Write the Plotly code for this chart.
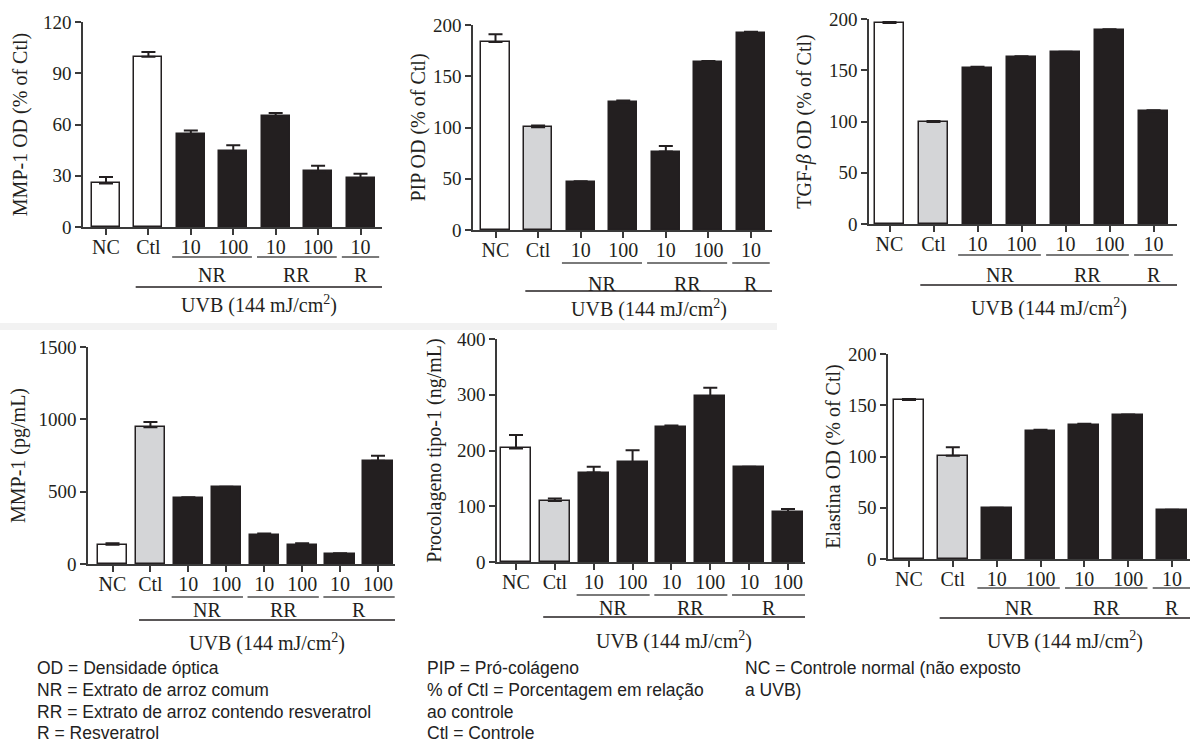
import plotly.graph_objects as go

W, H = 1193, 742

# ---------------- data ----------------
labels7 = ["NC", "Ctl", "10", "100", "10", "100", "10"]
labels8 = ["NC", "Ctl", "10", "100", "10", "100", "10", "100"]
groups7 = [("NR", 2, 3), ("RR", 4, 5), ("R", 6, 6)]
groups8 = [("NR", 2, 3), ("RR", 4, 5), ("R", 6, 7)]

mmp1_od = [25.5, 99.7, 54.2, 44.4, 64.7, 32.7, 28.6]
mmp1_od_err = [3.7, 2.8, 2.3, 3.5, 2.1, 3.1, 2.6]
pip_od = [183.4, 100.3, 46.6, 124.4, 76.5, 163.8, 192.5]
pip_od_err = [7.5, 1.7, 1.0, 2.0, 5.5, 1.2, 1.0]
tgfb_od = [196.1, 99.5, 152.5, 163.0, 167.5, 189.3, 110.0]
tgfb_od_err = [0.9, 1.0, 1.0, 0.6, 0.5, 0.7, 1.0]
mmp1_pg = [133, 945, 456, 532, 198, 133, 69, 714]
mmp1_pg_err = [10, 36, 5, 2, 12, 10, 6, 35]
procol = [203.6, 109.6, 160.5, 179.0, 242.0, 297.0, 171.0, 89.7]
procol_err = [24.0, 4.4, 10.5, 21.6, 3.0, 15.5, 0.0, 5.3]
elast = [155.0, 100.8, 49.4, 125.0, 131.0, 140.5, 47.5]
elast_err = [1.0, 8.2, 0.6, 1.0, 1.0, 0.5, 0.5]

ticks_mmp1_od = [0, 30, 60, 90, 120]
ticks_200 = [0, 50, 100, 150, 200]
ticks_mmp1_pg = [0, 500, 1000, 1500]
ticks_procol = [0, 100, 200, 300, 400]

uvb_label = "UVB (144 mJ/cm<sup>2</sup>)"

legend_rows = [
    ["OD = Densidade óptica", "PIP = Pró-colágeno", "NC = Controle normal (não exposto"],
    ["NR = Extrato de arroz comum", "% of Ctl = Porcentagem em relação", "a UVB)"],
    ["RR = Extrato de arroz contendo resveratrol", "ao controle", ""],
    ["R = Resveratrol", "Ctl = Controle", ""],
]

# ---------------- styling / layout (pixels) ----------------
DARK = "#231f20"
GRAY = "#d4d5d7"
AXC = "#3a3a3a"
SERIF = "Liberation Serif, Times New Roman, serif"

panels = [
    dict(vals=mmp1_od, err=mmp1_od_err, labels=labels7, groups=groups7, ticks=ticks_mmp1_od,
         title="MMP-1 OD (% of Ctl)", ctl_fill="white",
         left=83, right=382, c0=106, c1=360.5, y0=227, ytop=22, bw=0.66,
         gline=257, glab=275, lline=287, uvb=304, standoff=10),
    dict(vals=pip_od, err=pip_od_err, labels=labels7, groups=groups7, ticks=ticks_200,
         title="PIP OD (% of Ctl)", ctl_fill=GRAY,
         left=473, right=772, c0=495.5, c1=751, y0=230, ytop=25, bw=0.66,
         gline=263, glab=284, lline=291, uvb=308, standoff=2),
    dict(vals=tgfb_od, err=tgfb_od_err, labels=labels7, groups=groups7, ticks=ticks_200,
         title="TGF-<i>β</i> OD (% of Ctl)", ctl_fill=GRAY,
         left=869, right=1177, c0=889.5, c1=1153.5, y0=224, ytop=19, bw=0.66,
         gline=255, glab=275, lline=285, uvb=307, standoff=12),
    dict(vals=mmp1_pg, err=mmp1_pg_err, labels=labels8, groups=groups8, ticks=ticks_mmp1_pg,
         title="MMP-1 (pg/mL)", ctl_fill=GRAY,
         left=88, right=395, c0=112.5, c1=378, y0=564, ytop=347, bw=0.77,
         gline=597, glab=610, lline=620, uvb=642, standoff=7),
    dict(vals=procol, err=procol_err, labels=labels8, groups=groups8, ticks=ticks_procol,
         title="Procolageno tipo-1 (ng/mL)", ctl_fill=GRAY,
         left=497, right=805, c0=516, c1=788, y0=562, ytop=339, bw=0.77,
         gline=595, glab=608, lline=617, uvb=640, standoff=10),
    dict(vals=elast, err=elast_err, labels=labels7, groups=groups7, ticks=ticks_200,
         title="Elastina OD (% of Ctl)", ctl_fill=GRAY,
         left=888, right=1190, c0=909, c1=1172, y0=559, ytop=354, bw=0.68,
         gline=588, glab=608, lline=618, uvb=640, standoff=2),
]


def py(p):
    return 1 - p / H


fig = go.Figure()
shapes = []
annotations = []
layout_axes = {}

for i, p in enumerate(panels, start=1):
    n = len(p["vals"])
    xs = list(range(n))
    sp = (p["c1"] - p["c0"]) / (n - 1)
    xmin = -(p["c0"] - p["left"]) / sp
    xmax = (n - 1) + (p["right"] - p["c1"]) / sp
    fills = ["white", p["ctl_fill"]] + [DARK] * (n - 2)
    xa = "x" if i == 1 else f"x{i}"
    ya = "y" if i == 1 else f"y{i}"
    fig.add_trace(go.Bar(
        x=xs, y=p["vals"], width=p["bw"], xaxis=xa, yaxis=ya,
        marker=dict(color=fills, line=dict(color=DARK, width=1.5)),
        error_y=dict(type="data", array=p["err"], arrayminus=[0] * n, symmetric=False,
                     color=DARK, thickness=2, width=7),
        showlegend=False, hoverinfo="x+y",
    ))
    axis_font = dict(family=SERIF, size=20, color=DARK)
    layout_axes["xaxis" if i == 1 else f"xaxis{i}"] = dict(
        domain=[p["left"] / W, p["right"] / W], anchor=ya, range=[xmin, xmax],
        tickmode="array", tickvals=xs, ticktext=p["labels"], ticks="outside",
        ticklen=6, tickwidth=1.5, tickcolor=AXC, showline=True, linecolor=AXC,
        linewidth=1.5, showgrid=False, zeroline=False, tickfont=axis_font,
        fixedrange=True, automargin=False, ticklabelstandoff=-5,
    )
    layout_axes["yaxis" if i == 1 else f"yaxis{i}"] = dict(
        domain=[py(p["y0"]), py(p["ytop"])], anchor=xa, range=[0, p["ticks"][-1]],
        tickmode="array", tickvals=p["ticks"], ticks="outside", ticklen=6, tickwidth=1.5,
        tickcolor=AXC, showline=True, linecolor=AXC, linewidth=1.5, showgrid=False,
        zeroline=False, tickfont=dict(family=SERIF, size=19, color=DARK),
        title=dict(text=p["title"], font=dict(family=SERIF, size=20, color=DARK),
                   standoff=p["standoff"]),
        fixedrange=True, automargin=False,
    )
    # group underlines + labels
    for name, a, b in p["groups"]:
        shapes.append(dict(type="line", xref=xa, yref="paper",
                           x0=a - 0.44, x1=b + 0.44, y0=py(p["gline"]), y1=py(p["gline"]),
                           line=dict(color="#7a7a7a", width=2)))
        annotations.append(dict(xref=xa, yref="paper", x=(a + b) / 2, y=py(p["glab"]),
                                text=name, showarrow=False, xanchor="center", yanchor="middle",
                                font=dict(family=SERIF, size=20, color=DARK)))
    # UVB line + label
    lx0 = 1 - 0.3
    shapes.append(dict(type="line", xref=xa, yref="paper", x0=lx0, x1=xmax,
                       y0=py(p["lline"]), y1=py(p["lline"]),
                       line=dict(color=DARK, width=1.5)))
    annotations.append(dict(xref=xa, yref="paper", x=(lx0 + xmax) / 2, y=py(p["uvb"]),
                            text=uvb_label, showarrow=False, xanchor="center", yanchor="middle",
                            font=dict(family=SERIF, size=20, color=DARK)))

# faint separator band under top row
shapes.append(dict(type="rect", xref="paper", yref="paper", x0=0, x1=777 / W,
                   y0=py(330), y1=py(323), fillcolor="#f2f2f2", line=dict(width=0),
                   layer="below"))

# legend text block
col_x = [35, 425, 743]
row_y = [667, 689, 711, 732]
for r, row in enumerate(legend_rows):
    for c, txt in enumerate(row):
        if not txt:
            continue
        annotations.append(dict(xref="paper", yref="paper", x=col_x[c] / W, y=py(row_y[r] + 1),
                                text=txt, showarrow=False, xanchor="left", yanchor="middle",
                                font=dict(family="Liberation Sans, Arial, sans-serif", size=17.5,
                                          color="#222222")))

fig.update_layout(
    template="none",
    width=W, height=H, margin=dict(l=0, r=0, t=0, b=0, autoexpand=False),
    paper_bgcolor="white", plot_bgcolor="white",
    shapes=shapes, annotations=annotations, bargap=0,
    **layout_axes,
)

fig.write_html(
    "out.html",
    config={"displayModeBar": False},
    post_script="document.body.style.margin='0';document.body.style.padding='0';"
                "document.body.style.overflow='hidden';",
)
